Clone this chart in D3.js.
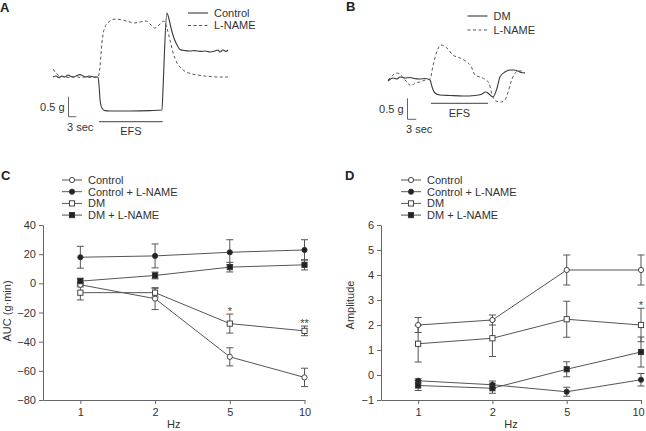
<!DOCTYPE html>
<html><head><meta charset="utf-8">
<script src="https://cdn.jsdelivr.net/npm/d3@7"></script>
<style>
body{margin:0;background:#fff}
svg{display:block}
text{font-family:"Liberation Sans",Arial,Helvetica,sans-serif;fill:#333}
</style>
</head><body>
<svg id="chart" width="646" height="431"></svg>
<script>
// ---------- DATA ----------
const hzLabels = ["1", "2", "5", "10"];
const seriesNames = ["Control", "Control + L-NAME", "DM", "DM + L-NAME"];

// Panel C: AUC (g·min)
const aucTicks = [40, 20, 0, -20, -40, -60, -80];
const aucControl = [-1, -10.5, -50.4, -64.5];
const aucControlErr = [1.5, 7.5, 6.2, 6.3];
const aucControlLN = [17.9, 18.8, 21.3, 22.9];
const aucControlLNErr = [7.5, 8.2, 8.6, 7.0];
const aucDM = [-6.4, -6.4, -27.6, -32.6];
const aucDMErr = [5, 3, 6.5, 3.3];
const aucDMLN = [1.5, 5.4, 11.1, 12.7];
const aucDMLNErr = [2, 2.3, 3.3, 3.5];
const aucStars = [null, null, "*", "**"]; // on DM series

// Panel D: Amplitude
const ampTicks = [6, 5, 4, 3, 2, 1, 0, -1];
const ampControl = [2.0, 2.2, 4.2, 4.2];
const ampControlErr = [0.3, 0.2, 0.6, 0.6];
const ampControlLN = [-0.23, -0.39, -0.67, -0.19];
const ampControlLNErr = [0.08, 0.15, 0.18, 0.25];
const ampDM = [1.25, 1.47, 2.23, 2.0];
const ampDMErr = [0.73, 0.73, 0.72, 0.67];
const ampDMLN = [-0.42, -0.53, 0.23, 0.92];
const ampDMLNErr = [0.2, 0.2, 0.3, 0.6];
const ampStars = [null, null, null, "*"]; // on DM series

// Panel A traces: [time (s), tension change (g)]
const traceAControl = [[0,0],[1.15,0.025],[2.3,-0.012],[3.46,0.025],[4.6,0],[5.77,0.05],[6.9,0.012],[8.1,0],[9.2,0.04],[10.4,0.06],[11.5,0.025],[12.7,0],[13.8,0.025],[15,0.012],[16.2,0],[17.3,0],[17.7,-0.2],[18.1,-0.575],[18.8,-0.775],[20,-0.84],[21.9,-0.85],[29.6,-0.85],[37.3,-0.84],[41.9,-0.825],[42.3,-0.325],[42.9,0.675],[43.8,1.6],[44.6,1.45],[45.4,1.225],[46.5,0.975],[47.7,0.8],[48.8,0.69],[50.8,0.66],[52.7,0.65],[54.6,0.66],[56.5,0.64],[58.5,0.65],[60.4,0.625],[62.3,0.65],[63.5,0.675],[64.2,0.625],[65.4,0.675],[66.5,0.64],[67.3,0.675]];
const traceALName = [[0,0.2],[1.5,0.075],[2.7,0.025],[4.6,0],[6.5,-0.012],[8.5,0.012],[10.4,-0.012],[12.3,0],[14.2,-0.012],[17.3,0],[18.1,0.275],[18.8,0.85],[20,1.25],[21.9,1.4],[24.2,1.45],[26.5,1.425],[28.8,1.39],[31.2,1.35],[33.5,1.375],[35.8,1.4],[37.7,1.3],[39.2,1.225],[41.2,1.325],[42.7,1.4],[43.8,1.225],[45,0.925],[46.2,0.6],[47.7,0.35],[49.2,0.225],[51.2,0.125],[53.5,0.075],[56.5,0.04],[60.4,0.012],[64.2,0],[67.3,0]];
const efsA = [17.7, 42.2];

// Panel B traces
const traceBDM = [[0,-0.024],[1.7,0.048],[3.1,0.024],[4.1,0.071],[5.9,0.048],[7.6,0.06],[9.0,0.036],[11.0,0.024],[12.8,0.036],[14.5,0],[15.2,-0.167],[16.2,-0.31],[17.9,-0.357],[21.4,-0.369],[25.9,-0.381],[30.0,-0.369],[32.1,-0.345],[33.8,-0.286],[35.2,-0.357],[36.2,-0.405],[37.6,-0.19],[38.6,0.071],[40.3,0.19],[42.1,0.238],[43.4,0.238],[44.8,0.214],[45.9,0.179],[47.2,0.167]];
const traceBLName = [[0,0],[1.4,0.095],[2.8,0.167],[4.1,0.143],[5.2,0.048],[6.6,-0.048],[7.9,-0.143],[9.3,-0.071],[11.0,-0.048],[12.8,0],[14.5,0.024],[15.5,0.333],[16.9,0.69],[18.3,0.833],[20.3,0.762],[22.4,0.595],[24.8,0.524],[27.2,0.429],[28.6,0.333],[30.0,0.119],[31.7,0.071],[33.8,0],[34.8,-0.071],[35.9,-0.357],[37.2,-0.5],[39.0,-0.524],[40.3,-0.476],[41.4,-0.286],[42.4,-0.048],[43.4,0.119],[44.8,0.214],[46.2,0.214],[47.2,0.167]];
const efsB = [14.8, 34.5];

// ---------- DRAW ----------
const svg = d3.select("#chart");
const INK = "#3a3a3a", AX = "#666";
const fmt = d => d < 0 ? "\u2212" + (-d) : String(d);

function panelLabel(t, x, y) {
  svg.append("text").attr("x", x).attr("y", y).attr("font-size", 13).attr("font-weight", "bold")
    .style("fill", "#222").text(t);
}

function trace(opts) {
  const g = svg.append("g");
  const x = d3.scaleLinear().domain([0, 1]).range([opts.x0, opts.x0 + opts.pxPerSec]);
  const y = d3.scaleLinear().domain([0, 1]).range([opts.y0, opts.y0 - opts.pxPerG]);
  const line = d3.line().x(d => x(d[0])).y(d => y(d[1])).curve(d3.curveMonotoneX);
  g.append("path").datum(opts.solid).attr("d", line).attr("fill", "none").attr("stroke", INK).attr("stroke-width", 1.1);
  g.append("path").datum(opts.dashed).attr("d", line).attr("fill", "none").attr("stroke", "#555")
    .attr("stroke-width", 1).attr("stroke-dasharray", "3,2.5");
  const sb = opts.scaleBar;
  g.append("path").attr("d", `M${sb.x},${sb.y - opts.pxPerG * 0.5}V${sb.y}H${sb.x + opts.pxPerSec * 3}`)
    .attr("fill", "none").attr("stroke", AX).attr("stroke-width", 1);
  g.append("text").attr("x", sb.x - 4).attr("y", sb.y - opts.pxPerG * 0.25).attr("dy", "0.35em")
    .attr("text-anchor", "end").attr("font-size", 11).text("0.5 g");
  g.append("text").attr("x", sb.x - 1.5).attr("y", sb.y + 10).attr("dy", "0.35em")
    .attr("font-size", 11).text("3 sec");
  g.append("line").attr("x1", x(opts.efs[0])).attr("x2", x(opts.efs[1])).attr("y1", opts.efsY).attr("y2", opts.efsY)
    .attr("stroke", AX).attr("stroke-width", 1.2);
  g.append("text").attr("x", (x(opts.efs[0]) + x(opts.efs[1])) / 2).attr("y", opts.efsY + 9.5).attr("dy", "0.35em")
    .attr("text-anchor", "middle").attr("font-size", 11).text("EFS");
  const L = opts.legend;
  opts.legendNames.forEach((n, i) => {
    const yy = L.y + i * L.dy;
    g.append("line").attr("x1", L.x).attr("x2", L.x + 20).attr("y1", yy).attr("y2", yy)
      .attr("stroke", i === 0 ? INK : "#555").attr("stroke-width", i === 0 ? 1.1 : 1)
      .attr("stroke-dasharray", i === 0 ? null : "3,2.5");
    g.append("text").attr("x", L.x + 26).attr("y", yy).attr("dy", "0.35em").attr("font-size", 11).text(n);
  });
}

trace({x0: 53, y0: 77, pxPerSec: 2.6, pxPerG: 40, solid: traceAControl, dashed: traceALName,
  scaleBar: {x: 68.5, y: 116.7}, efs: efsA, efsY: 121.7,
  legend: {x: 188, y: 13, dy: 12.5}, legendNames: ["Control", "L-NAME"]});
trace({x0: 388, y0: 80, pxPerSec: 2.9, pxPerG: 42, solid: traceBDM, dashed: traceBLName,
  scaleBar: {x: 407.5, y: 119.3}, efs: efsB, efsY: 103.3,
  legend: {x: 467.5, y: 16, dy: 14}, legendNames: ["DM", "L-NAME"]});
panelLabel("A", 0, 12);
panelLabel("B", 346, 11);

function marker(g, type, cx, cy) {
  const filled = type === "fc" || type === "fs";
  if (type === "oc" || type === "fc") {
    g.append("circle").attr("cx", cx).attr("cy", cy).attr("r", 2.6)
      .attr("fill", filled ? "#222" : "#fff").attr("stroke", "#333").attr("stroke-width", 0.9);
  } else {
    g.append("rect").attr("x", cx - 2.6).attr("y", cy - 2.6).attr("width", 5.2).attr("height", 5.2)
      .attr("fill", filled ? "#222" : "#fff").attr("stroke", "#333").attr("stroke-width", 0.9);
  }
}

function linePanel(opts) {
  const g = svg.append("g");
  const x = d3.scaleLinear().domain([-0.5, 3]).range(opts.xRange);
  const y = d3.scaleLinear().domain(opts.yDomain).range([400, 225]);
  const xAxis = d3.axisBottom(x).tickValues([0, 1, 2, 3]).tickFormat(i => hzLabels[i]).tickSize(4).tickSizeOuter(0).tickPadding(4);
  const yAxis = d3.axisLeft(y).tickValues(opts.ticks).tickFormat(fmt).tickSize(4).tickSizeOuter(0).tickPadding(3);
  const gx = g.append("g").attr("transform", "translate(0,400)").call(xAxis);
  const gy = g.append("g").attr("transform", `translate(${opts.xRange[0]},0)`).call(yAxis);
  [gx, gy].forEach(a => {
    a.selectAll("path,line").attr("stroke", AX);
    a.selectAll("text").attr("font-size", 11).style("font-family", '"Liberation Sans",Arial,sans-serif').style("fill", "#333");
  });
  // keep the last x label inside the canvas edge
  gx.selectAll(".tick text").attr("dx", (d, i) => (x(d) + 7 > 646 ? -(x(d) + 7 - 645) : 0));
  g.append("text").attr("x", (opts.xRange[0] + opts.xRange[1]) / 2).attr("y", 424.5).attr("dy", "0.35em")
    .attr("text-anchor", "middle").attr("font-size", 11).text("Hz");
  g.append("text").attr("transform", `translate(${opts.yLabelX},${opts.yLabelY}) rotate(-90)`).attr("dy", "0.35em")
    .attr("text-anchor", "middle").attr("font-size", 11).text(opts.yLabel);

  const types = ["oc", "fc", "os", "fs"];
  const line = d3.line().x((d, i) => x(i)).y(d => y(d));
  opts.series.forEach(s => {
    g.append("path").datum(s.v).attr("d", line).attr("fill", "none").attr("stroke", "#555").attr("stroke-width", 1);
  });
  opts.series.forEach(s => {
    s.v.forEach((v, i) => {
      const cx = x(i), t = y(v + s.e[i]), b = y(v - s.e[i]);
      g.append("path").attr("d", `M${cx},${t}V${b}M${cx - 3.5},${t}H${cx + 3.5}M${cx - 3.5},${b}H${cx + 3.5}`)
        .attr("fill", "none").attr("stroke", "#555").attr("stroke-width", 1);
    });
  });
  opts.series.forEach((s, k) => {
    s.v.forEach((v, i) => marker(g, types[k], x(i), y(v)));
  });
  const dm = opts.series[2];
  opts.stars.forEach((st, i) => {
    if (!st) return;
    g.append("text").attr("x", x(i)).attr("y", y(dm.v[i] + dm.e[i]) + 1)
      .attr("text-anchor", "middle").attr("font-size", 11).style("fill", "#444").text(st);
  });
  seriesNames.forEach((n, k) => {
    const yy = opts.legend.y + k * opts.legend.dy;
    g.append("line").attr("x1", opts.legend.x).attr("x2", opts.legend.x + 20).attr("y1", yy).attr("y2", yy)
      .attr("stroke", "#555").attr("stroke-width", 1);
    marker(g, types[k], opts.legend.x + 10, yy);
    g.append("text").attr("x", opts.legend.x + 26).attr("y", yy).attr("dy", "0.35em").attr("font-size", 11).text(n);
  });
}

linePanel({xRange: [43, 304.5], yDomain: [-80, 40], ticks: aucTicks, yLabel: "AUC (g\u00b7min)", yLabelX: 7, yLabelY: 311,
  series: [{v: aucControl, e: aucControlErr}, {v: aucControlLN, e: aucControlLNErr}, {v: aucDM, e: aucDMErr}, {v: aucDMLN, e: aucDMLNErr}],
  stars: aucStars, legend: {x: 62, y: 180, dy: 11.7}});
linePanel({xRange: [381, 641], yDomain: [-1, 6], ticks: ampTicks, yLabel: "Amplitude", yLabelX: 350, yLabelY: 305,
  series: [{v: ampControl, e: ampControlErr}, {v: ampControlLN, e: ampControlLNErr}, {v: ampDM, e: ampDMErr}, {v: ampDMLN, e: ampDMLNErr}],
  stars: ampStars, legend: {x: 401, y: 180, dy: 11.7}});
panelLabel("C", 1, 180);
panelLabel("D", 345, 180);
</script>
</body></html>
